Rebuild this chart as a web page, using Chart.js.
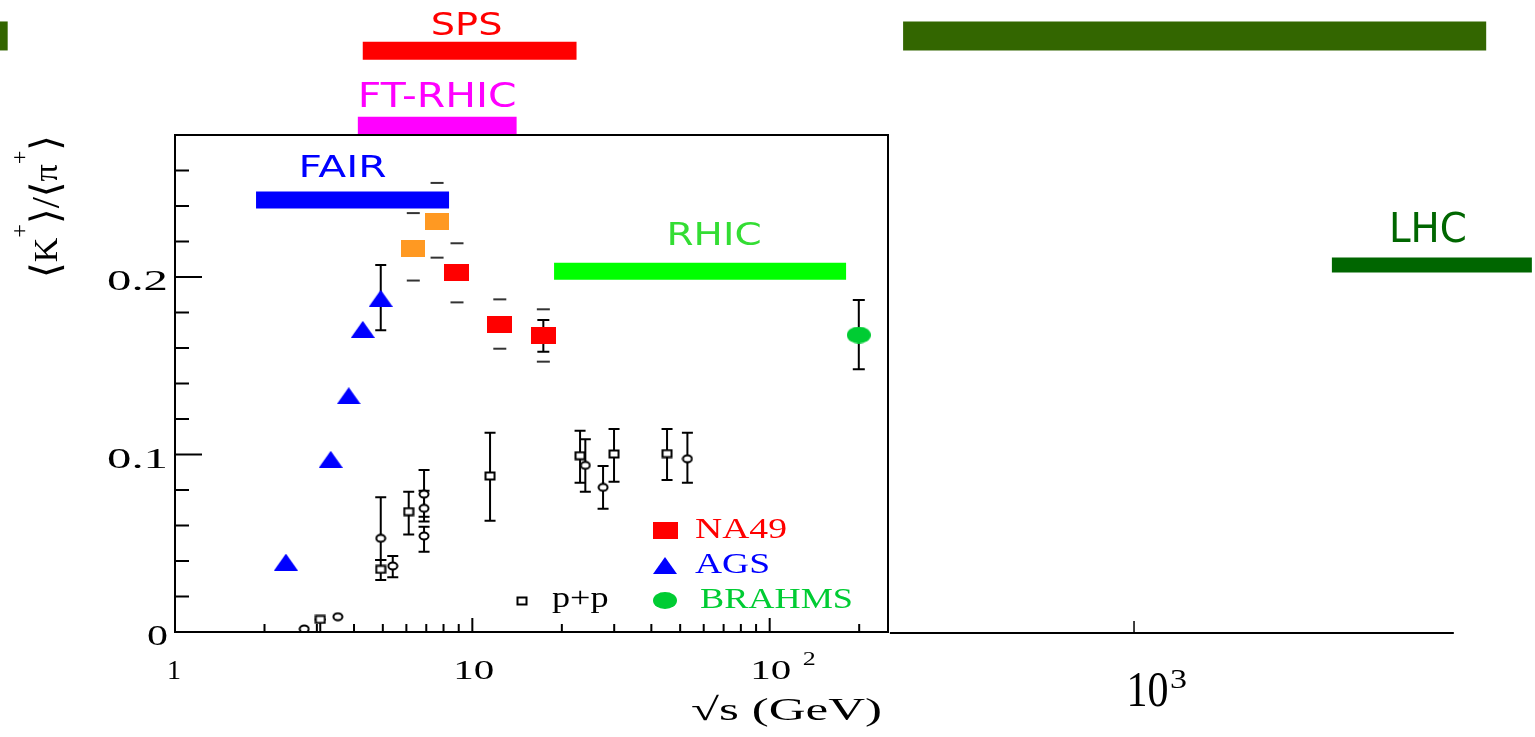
<!DOCTYPE html>
<html>
<head>
<meta charset="utf-8">
<script src="https://cdn.jsdelivr.net/npm/chart.js@4.4.1/dist/chart.umd.min.js"></script>
<style>
html,body{margin:0;padding:0;background:#fff;overflow:hidden}
#wrap{position:relative;width:1535px;height:737px}
canvas{display:block}
</style>
</head>
<body>
<div id="wrap"><canvas id="c" width="1535" height="737"></canvas></div>
<script>
// ---------------- DATA ----------------
// NA49 (red squares)
const na49X = [8.88, 12.37, 17.33];
const na49Y = [0.2023, 0.1735, 0.1668];
const na49SysLo = [0.1857, 0.1596, 0.1523];
const na49SysHi = [0.2190, 0.1874, 0.1818];
const na49StatLo = [null, null, 0.1579];
const na49StatHi = [null, null, 0.1758];
// NA49 low-energy points (orange squares)
const na49bX = [6.33, 7.61];
const na49bY = [0.2162, 0.2312];
const na49bSysLo = [0.1980, 0.2109];
const na49bSysHi = [0.2360, 0.2530];
// AGS (blue triangles)
const agsX = [2.36, 3.34, 3.84, 4.28, 4.92];
const agsY = [0.0394, 0.0973, 0.1331, 0.1705, 0.1880];
const agsErrLo = [null, null, null, null, 0.1700];
const agsErrHi = [null, null, null, null, 0.2068];
// BRAHMS (green circle)
const brahmsX = [199.4];
const brahmsY = [0.1673];
const brahmsErrLo = [0.1480];
const brahmsErrHi = [0.1870];
// p+p open squares
const ppSqX = [3.08, 4.92, 6.11, 11.47, 23.03, 29.96, 45.17];
const ppSqY = [0.0071, 0.0353, 0.0678, 0.0879, 0.0993, 0.1003, 0.1005];
const ppSqLo = [0.0000, 0.0293, 0.0550, 0.0627, 0.0841, 0.0847, 0.0856];
const ppSqHi = [0.0071, 0.0406, 0.0790, 0.1123, 0.1134, 0.1144, 0.1144];
// p+p open circles
const ppCiX = [2.72, 3.53, 4.92, 5.40, 6.88, 6.88, 6.88, 23.99, 27.52, 52.88];
const ppCiY = [0.0017, 0.0086, 0.0528, 0.0372, 0.0777, 0.0697, 0.0541, 0.0939, 0.0815, 0.0976];
const ppCiLo = [null, null, 0.0406, 0.0308, 0.0650, 0.0622, 0.0452, 0.0790, 0.0695, 0.0841];
const ppCiHi = [null, null, 0.0759, 0.0428, 0.0913, 0.0796, 0.0593, 0.1086, 0.0935, 0.1123];
// energy ranges of facilities (horizontal bars)
const bandNames = ['SPS', 'FT-RHIC', 'FAIR', 'RHIC', 'LHC', '', ''];
const bandFrom  = [4.28, 4.12, 1.873, 18.83, 7777, 281, 0.2578];
const bandTo    = [22.41, 14.09, 8.35, 180.7, 36590, 25690, 0.2737];
const bandLevel = [0.3274, 0.2852, 0.2434, 0.2032, 0.2068, 0.3358, 0.3358];
// axes
const xTickValues = [1, 10, 100];
const xTickText = ['1', '10', '10'];
const xTickSup = ['', '', '2'];
const xMinorTicks = [2, 3, 4, 5, 6, 7, 8, 9, 20, 30, 40, 50, 60, 70, 80, 90, 200];
const yTickValues = [0, 0.1, 0.2];
const yTickText = ['0', '0.1', '0.2'];
const yMinorTicks = [0.02, 0.04, 0.06, 0.08, 0.12, 0.14, 0.16, 0.18, 0.22, 0.24, 0.26];
const extTickValues = [1000];
const extTickText = ['10'];
const extTickSup = ['3'];
const extAxisSpan = [151, 11900];
const legendText = ['NA49', 'AGS', 'BRAHMS', 'p+p'];

// ---------------- STYLES ----------------
const SERIF = '"Liberation Serif","DejaVu Serif",serif';
const SANS = '"DejaVu Sans","Liberation Sans",sans-serif';
const bandColor = ['#ff0000', '#ff00ff', '#0000ff', '#00ff00', '#006600', '#336600', '#336600'];
const bandThick = [18, 18, 17, 17, 15, 29, 29];
const bandLabelStyle = [
  {dx: -3, dy: -15.8, font: '32px ', w: 71.6, color: '#ff0000'},
  {dx: 0, dy: -18.8, font: '34px ', w: 158.8, color: '#ff00ff'},
  {dx: -10, dy: -23.3, font: '30px ', w: 88, color: '#0000ff'},
  {dx: 14, dy: -26.3, font: '32px ', w: 95, color: '#33dd33'},
  {dx: -4, dy: -23.3, font: '41px ', w: 78, color: '#006600'},
  null, null
];

function mk(w, h, draw) {
  const c = document.createElement('canvas');
  c.width = w; c.height = h;
  draw(c.getContext('2d'), w, h);
  return c;
}
const imgNA49 = mk(25, 17, (g, w, h) => { g.fillStyle = '#ff0000'; g.fillRect(0, 0, w, h); });
const imgNA49b = mk(24, 17, (g, w, h) => { g.fillStyle = '#ff9922'; g.fillRect(0, 0, w, h); });
const imgAGS = mk(24, 17, (g, w, h) => {
  g.fillStyle = '#0000ff'; g.beginPath(); g.moveTo(w / 2, 0); g.lineTo(w, h); g.lineTo(0, h); g.closePath(); g.fill();
});
const imgBR = mk(24, 17, (g, w, h) => {
  g.fillStyle = '#00cc33'; g.beginPath(); g.ellipse(w / 2, h / 2, w / 2, h / 2, 0, 0, Math.PI * 2); g.fill();
});
const imgPPs = mk(12, 10, (g, w, h) => {
  g.fillStyle = '#fff'; g.fillRect(1, 1, w - 2, h - 2);
  g.strokeStyle = '#000'; g.lineWidth = 2; g.strokeRect(1.5, 1.5, w - 3, h - 3);
});
const imgPPc = mk(12, 10, (g, w, h) => {
  g.fillStyle = '#fff'; g.strokeStyle = '#000'; g.lineWidth = 2;
  g.beginPath(); g.ellipse(w / 2, h / 2, w / 2 - 1.5, h / 2 - 1.5, 0, 0, Math.PI * 2); g.fill(); g.stroke();
});

function pts(xs, ys) { return xs.map((v, i) => ({x: v, y: ys[i]})); }

const datasets = [
  {label: 'NA49', data: pts(na49X, na49Y), pointStyle: imgNA49, pointRadius: 8},
  {label: 'NA49 low', data: pts(na49bX, na49bY), pointStyle: imgNA49b, pointRadius: 8},
  {label: 'AGS', data: pts(agsX, agsY), pointStyle: imgAGS, pointRadius: 8},
  {label: 'BRAHMS', data: pts(brahmsX, brahmsY), pointStyle: imgBR, pointRadius: 8},
  {label: 'p+p', data: pts(ppSqX, ppSqY), pointStyle: imgPPs, pointRadius: 5},
  {label: 'p+p ', data: pts(ppCiX, ppCiY), pointStyle: imgPPc, pointRadius: 5}
];
bandNames.forEach((n, i) => {
  datasets.push({
    label: n || 'range',
    data: [{x: bandFrom[i], y: bandLevel[i]}, {x: bandTo[i], y: bandLevel[i]}],
    showLine: true, pointRadius: 0, borderColor: bandColor[i], backgroundColor: bandColor[i],
    borderWidth: bandThick[i], borderCapStyle: 'butt', clip: false, fill: false
  });
});

function drawFit(ctx, str, x, y, font, color, width, align) {
  ctx.save();
  ctx.font = font; ctx.fillStyle = color; ctx.textBaseline = 'alphabetic';
  const w = ctx.measureText(str).width;
  const s = width ? width / w : 1;
  ctx.translate(x, y); ctx.scale(s, 1);
  ctx.textAlign = align || 'center';
  ctx.fillText(str, 0, 0);
  ctx.restore();
}

const errPlugin = {
  id: 'errbars',
  beforeDatasetsDraw(chart) {
    const {ctx} = chart; const x = chart.scales.x, y = chart.scales.y;
    ctx.save();
    ctx.strokeStyle = '#000'; ctx.lineWidth = 2; ctx.lineCap = 'butt';
    const bar = (xv, lo, hi, cap) => {
      if (lo == null || hi == null) return;
      const px = x.getPixelForValue(xv), p1 = y.getPixelForValue(lo), p2 = y.getPixelForValue(hi);
      ctx.beginPath();
      ctx.moveTo(px, p1); ctx.lineTo(px, p2);
      ctx.moveTo(px - cap / 2, p1); ctx.lineTo(px + cap / 2, p1);
      ctx.moveTo(px - cap / 2, p2); ctx.lineTo(px + cap / 2, p2);
      ctx.stroke();
    };
    ppSqX.forEach((v, i) => bar(v, ppSqLo[i], ppSqHi[i], 11));
    ppCiX.forEach((v, i) => bar(v, ppCiLo[i], ppCiHi[i], 11));
    agsX.forEach((v, i) => bar(v, agsErrLo[i], agsErrHi[i], 11));
    brahmsX.forEach((v, i) => bar(v, brahmsErrLo[i], brahmsErrHi[i], 12));
    na49X.forEach((v, i) => bar(v, na49StatLo[i], na49StatHi[i], 12));
    // systematic dashes
    ctx.strokeStyle = '#333';
    const dash = (xv, val) => {
      const px = x.getPixelForValue(xv), py = y.getPixelForValue(val);
      ctx.beginPath(); ctx.moveTo(px - 6.5, py); ctx.lineTo(px + 6.5, py); ctx.stroke();
    };
    na49X.forEach((v, i) => { dash(v, na49SysLo[i]); dash(v, na49SysHi[i]); });
    na49bX.forEach((v, i) => { dash(v, na49bSysLo[i]); dash(v, na49bSysHi[i]); });
    ctx.restore();
  }
};

const framePlugin = {
  id: 'frame',
  afterDraw(chart) {
    const {ctx, chartArea: a} = chart; const x = chart.scales.x, y = chart.scales.y, x2 = chart.scales.x2;
    ctx.save();
    ctx.strokeStyle = '#000'; ctx.lineWidth = 2;
    ctx.strokeRect(a.left, a.top, a.right - a.left, a.bottom - a.top);
    ctx.beginPath();
    xMinorTicks.forEach(v => { const p = x.getPixelForValue(v); ctx.moveTo(p, a.bottom); ctx.lineTo(p, a.bottom - 8); });
    xTickValues.forEach(v => { const p = x.getPixelForValue(v); ctx.moveTo(p, a.bottom); ctx.lineTo(p, a.bottom - 14); });
    yMinorTicks.forEach(v => { const p = y.getPixelForValue(v); ctx.moveTo(a.left, p); ctx.lineTo(a.left + 14, p); });
    yTickValues.forEach(v => { const p = y.getPixelForValue(v); ctx.moveTo(a.left, p); ctx.lineTo(a.left + 27, p); });
    ctx.stroke();
    // extension axis
    const e0 = x2.getPixelForValue(extAxisSpan[0]), e1 = x2.getPixelForValue(extAxisSpan[1]);
    ctx.beginPath(); ctx.moveTo(e0, a.bottom + 1); ctx.lineTo(e1, a.bottom + 1); ctx.stroke();
    ctx.lineWidth = 1.5; ctx.beginPath();
    extTickValues.forEach(v => { const p = x2.getPixelForValue(v); ctx.moveTo(p, a.bottom); ctx.lineTo(p, a.bottom - 11); });
    ctx.stroke();
    // tick labels
    const yw = {'0': 21, '0.1': 61, '0.2': 61};
    yTickValues.forEach((v, i) => {
      drawFit(ctx, yTickText[i], a.left - 7, y.getPixelForValue(v) + 13, '30px ' + SERIF, '#000', yw[yTickText[i]], 'right');
    });
    const xw = {'1': 14, '10': 41};
    const xoff = [-1, 1.5, 1];
    xTickValues.forEach((v, i) => {
      const p = x.getPixelForValue(v) + xoff[i];
      drawFit(ctx, xTickText[i], p, 679, '28px ' + SERIF, '#000', xw[xTickText[i]], 'center');
      if (xTickSup[i]) drawFit(ctx, xTickSup[i], p + 32, 665, '19px ' + SERIF, '#000', 13, 'left');
    });
    extTickValues.forEach((v, i) => {
      const p = x2.getPixelForValue(v);
      drawFit(ctx, extTickText[i], p - 7.6, 706, '50px ' + SERIF, '#000', 42, 'left');
      drawFit(ctx, extTickSup[i], p + 36, 688, '27px ' + SERIF, '#000', 17, 'left');
    });
    // axis title
    drawFit(ctx, '\u221As (GeV)', 882, 720, '32px ' + SERIF, '#000', 191, 'right');
    // y title (rotated)
    ctx.save();
    ctx.translate(57, 278); ctx.rotate(-Math.PI / 2);
    const big = '34px ' + SERIF, brk = '40px ' + SERIF, small = '24px ' + SERIF;
    const pieces = [['\u27E8', brk, 2], ['K', big, 0], ['+', small, -30], ['\u27E9', brk, 2], ['/', brk, 2], ['\u27E8', brk, 2], ['\u03C0', big, 0], ['+', small, -30], ['\u27E9', brk, 2]];
    let tot = 0; const ws = [];
    pieces.forEach(p => { ctx.font = p[1]; const w = ctx.measureText(p[0]).width; ws.push(w); tot += w; });
    ctx.scale(143 / tot, 1);
    ctx.fillStyle = '#000'; ctx.textBaseline = 'alphabetic'; ctx.textAlign = 'left';
    let cx = 0;
    pieces.forEach((p, i) => { ctx.font = p[1]; ctx.fillText(p[0], cx, p[2]); cx += ws[i]; });
    ctx.restore();
    // band labels
    bandNames.forEach((n, i) => {
      const st = bandLabelStyle[i];
      if (!n || !st) return;
      const p0 = x.getPixelForValue(bandFrom[i]), p1 = x.getPixelForValue(bandTo[i]);
      const cy = y.getPixelForValue(bandLevel[i]);
      drawFit(ctx, n, (p0 + p1) / 2 + st.dx, cy + st.dy, st.font + SANS, st.color, st.w, 'center');
    });
    // legend
    const lg = [
      {img: imgNA49, mx: 665, my: 530, tx: 695, ty: 538, w: 92, c: '#ff0000'},
      {img: imgAGS, mx: 665, my: 565, tx: 695, ty: 573, w: 75, c: '#0000ff'},
      {img: imgBR, mx: 665, my: 600, tx: 700, ty: 608, w: 153, c: '#00cc33'},
      {img: imgPPs, mx: 522, my: 601, tx: 552, ty: 607, w: 56.6, c: '#000'}
    ];
    lg.forEach((L, i) => {
      ctx.drawImage(L.img, Math.round(L.mx - L.img.width / 2), Math.round(L.my - L.img.height / 2));
      drawFit(ctx, legendText[i], L.tx, L.ty, '30px ' + SERIF, L.c, L.w, 'left');
    });
    ctx.restore();
  }
};

new Chart(document.getElementById('c'), {
  type: 'scatter',
  data: {datasets},
  options: {
    responsive: false, animation: false, devicePixelRatio: 1, events: [],
    layout: {padding: {left: 175, right: 647, top: 135, bottom: 105}},
    plugins: {legend: {display: false}, tooltip: {enabled: false}, title: {display: false}},
    scales: {
      x: {type: 'logarithmic', min: 1, max: 250, display: false},
      x2: {type: 'logarithmic', axis: 'x', min: 0.5953, max: 148.8, display: false},
      y: {type: 'linear', min: 0, max: 0.28, display: false}
    }
  },
  plugins: [errPlugin, framePlugin]
});
</script>
</body>
</html>
